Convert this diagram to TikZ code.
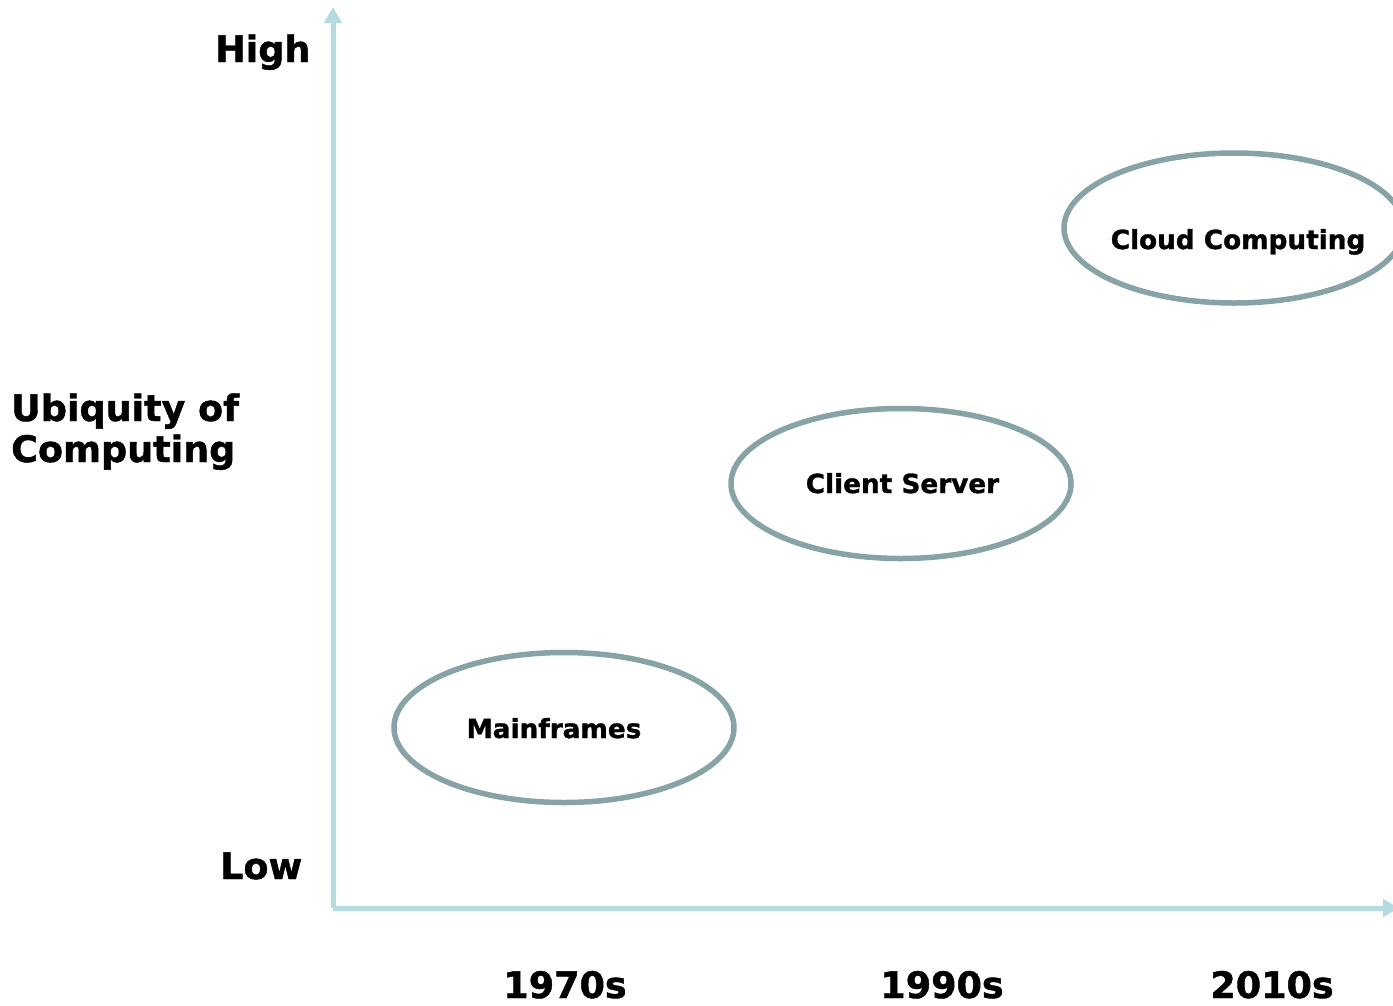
\documentclass[tikz,border=0pt]{standalone}
\usepackage{fontspec}
\setmainfont{DejaVu Sans}[BoldFeatures={FakeBold=1.2}]
\usetikzlibrary{arrows.meta,shapes.geometric}
\definecolor{axisblue}{HTML}{B4DCE0}
\definecolor{ovalgrey}{HTML}{87A3A5}
\tikzset{
  axisline/.style={draw=axisblue, line width=5pt, -{Triangle[length=16pt,width=17pt]}},
  oval/.style={ellipse, draw=ovalgrey, line width=5.5pt, minimum width=340pt, minimum height=150pt, inner sep=0pt},
  bigtxt/.style={font=\fontsize{36.5}{41}\selectfont\bfseries, inner sep=0pt, text=black},
  smalltxt/.style={font=\fontsize{26.3}{30}\selectfont\bfseries, inner sep=0pt, text=black, anchor=base}
}
\begin{document}
\begin{tikzpicture}[x=1pt,y=-1pt]
\useasboundingbox (0,0) rectangle (1393,1005);
\clip (0,0) rectangle (1393,1005);
\fill[white] (0,0) rectangle (1393,1005);
% axes
\coordinate (origin) at (333,908);
\coordinate (ytop) at (333,7);
\coordinate (xend) at (1399,908);
\draw[axisline] (origin) -- (ytop);
\draw[axisline] (origin) -- (xend);
% axis labels
\node[bigtxt, anchor=base west] (high) at (215,62) {High};
\node[bigtxt, anchor=base west] (low) at (220,879) {Low};
\node[bigtxt, anchor=base west, align=left] (ubiq) at (11,462) {Ubiquity of\\Computing};
\node[bigtxt, anchor=base] (y1970) at (565,998) {1970s};
\node[bigtxt, anchor=base] (y1990) at (942,998) {1990s};
\node[bigtxt, anchor=base] (y2010) at (1272,998) {2010s};
% ellipses
\node[oval] (mainframes) at (564,727.5) {};
\node[oval] (clientserver) at (901,483.5) {};
\node[oval] (cloud) at (1234,228) {};
\node[smalltxt] (mftxt) at (554,738) {Mainframes};
\node[smalltxt] (cstxt) at (902.5,493) {Client Server};
\node[smalltxt] (cctxt) at (1238,249) {Cloud Computing};
\end{tikzpicture}
\end{document}
